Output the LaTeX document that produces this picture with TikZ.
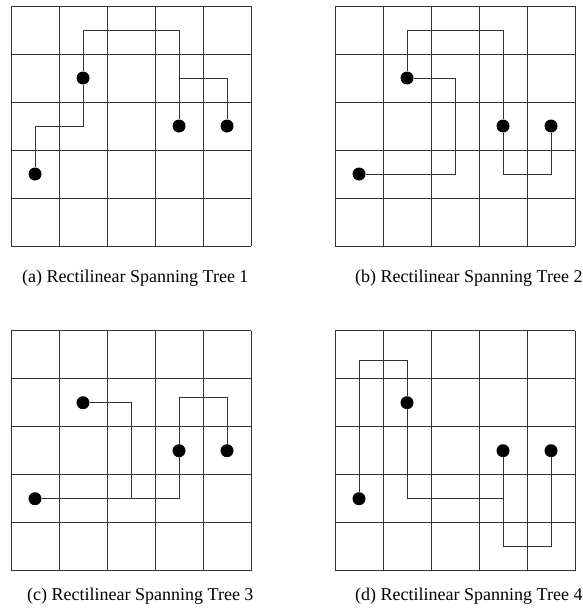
\documentclass[tikz,border=0pt]{standalone}
\usepackage{fontspec}
\setmainfont{Liberation Serif}
\begin{document}
\begin{tikzpicture}[x=1pt,y=1pt,
  gridline/.style={line width=0.9pt, draw=black!80},
  treeline/.style={line width=0.75pt, draw=black!80},
  pin/.style={circle, fill=black, inner sep=0pt, minimum size=13pt},
  caption/.style={font=\fontsize{18}{20}\selectfont, inner sep=0pt, anchor=west}]
\useasboundingbox (0,0) rectangle (582,-610);
% (a)
\begin{scope}[shift={(11,-246)}, x=48pt, y=48pt]
  \draw[gridline, step=1] (0,0) grid (5,5);
  \node[pin] (aA) at (1.5,3.5) {};
  \node[pin] (aB) at (0.5,1.5) {};
  \node[pin] (aC) at (3.5,2.5) {};
  \node[pin] (aD) at (4.5,2.5) {};
  \coordinate (a1) at (1.5,4.5);
  \coordinate (a2) at (3.5,3.5);
  \coordinate (a3) at (1.5,2.5);
  \draw[treeline] (aA) -- (a1) -| (aC);
  \draw[treeline] (a2) -| (aD);
  \draw[treeline] (aA) -- (a3) -| (aB);
\end{scope}
% (b)
\begin{scope}[shift={(335,-246)}, x=48pt, y=48pt]
  \draw[gridline, step=1] (0,0) grid (5,5);
  \node[pin] (bA) at (1.5,3.5) {};
  \node[pin] (bB) at (0.5,1.5) {};
  \node[pin] (bC) at (3.5,2.5) {};
  \node[pin] (bD) at (4.5,2.5) {};
  \coordinate (b1) at (1.5,4.5);
  \coordinate (b2) at (2.5,1.5);
  \coordinate (b3) at (3.5,1.5);
  \draw[treeline] (bA) -- (b1) -| (bC);
  \draw[treeline] (bA) -| (b2) -- (bB);
  \draw[treeline] (bC) -- (b3) -| (bD);
\end{scope}
% (c)
\begin{scope}[shift={(11,-570.7)}, x=48pt, y=48pt]
  \draw[gridline, step=1] (0,0) grid (5,5);
  \node[pin] (cA) at (1.5,3.5) {};
  \node[pin] (cB) at (0.5,1.5) {};
  \node[pin] (cC) at (3.5,2.5) {};
  \node[pin] (cD) at (4.5,2.5) {};
  \coordinate (c1) at (2.5,1.5);
  \coordinate (c2) at (3.5,3.62);
  \draw[treeline] (cA) -| (c1);
  \draw[treeline] (cB) -| (cC);
  \draw[treeline] (cC) -- (c2) -| (cD);
\end{scope}
% (d)
\begin{scope}[shift={(335,-570.7)}, x=48pt, y=48pt]
  \draw[gridline, step=1] (0,0) grid (5,5);
  \node[pin] (dA) at (1.5,3.5) {};
  \node[pin] (dB) at (0.5,1.5) {};
  \node[pin] (dC) at (3.5,2.5) {};
  \node[pin] (dD) at (4.5,2.5) {};
  \coordinate (d1) at (0.5,4.375);
  \coordinate (d2) at (3.5,1.5);
  \coordinate (d3) at (3.5,0.5);
  \draw[treeline] (dB) -- (d1) -| (dA);
  \draw[treeline] (dA) |- (d2);
  \draw[treeline] (dC) -- (d3) -| (dD);
\end{scope}
\node[caption] (capa) at (22,-278) {(a) Rectilinear Spanning Tree 1};
\node[caption] (capb) at (355,-278) {(b) Rectilinear Spanning Tree 2};
\node[caption] (capc) at (27,-596) {(c) Rectilinear Spanning Tree 3};
\node[caption] (capd) at (355,-596) {(d) Rectilinear Spanning Tree 4};
\end{tikzpicture}
\end{document}
